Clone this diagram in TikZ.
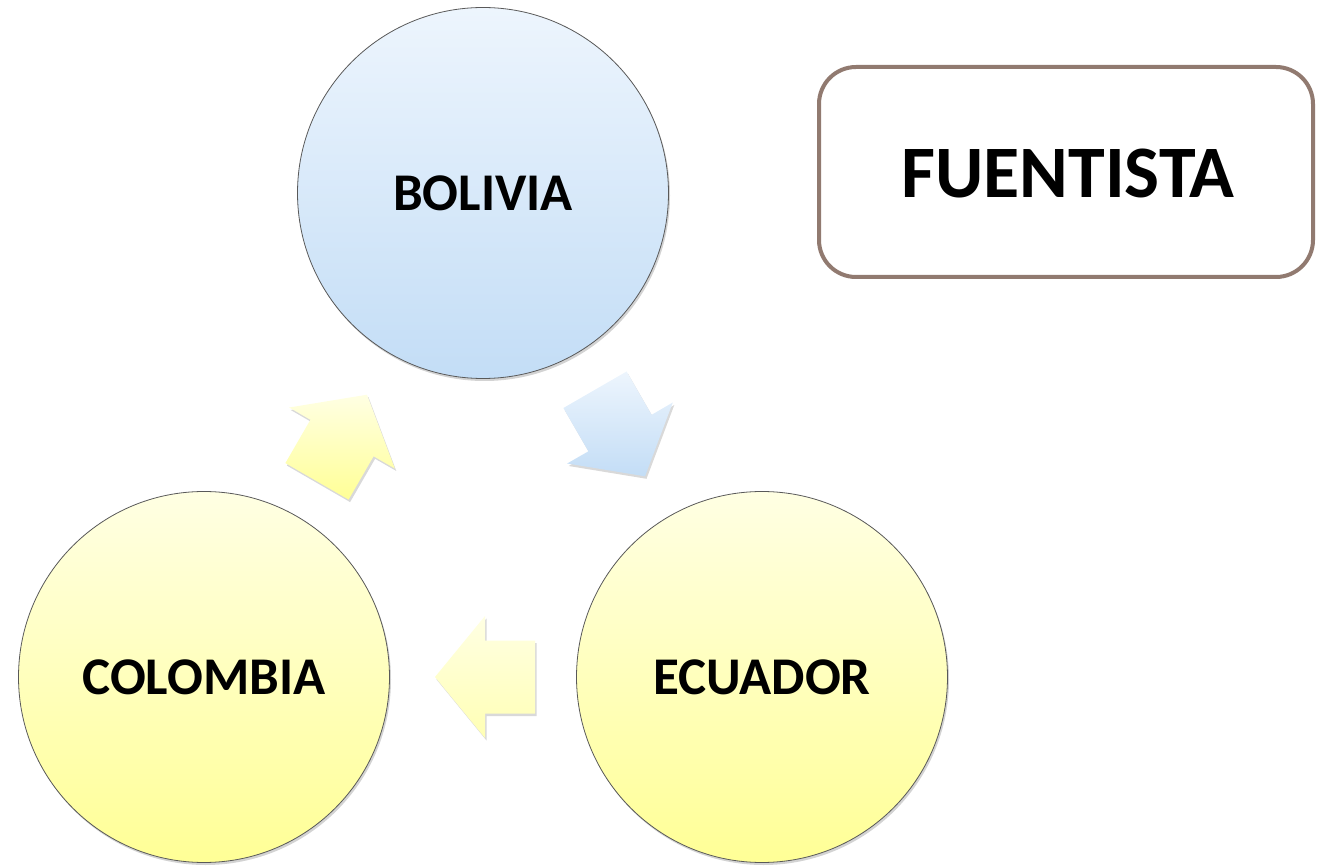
\documentclass[tikz,border=0pt]{standalone}
\usepackage{fontspec}
\setmainfont{Carlito}
\usetikzlibrary{shadows}
\definecolor{bluetop}{HTML}{EDF5FD}
\definecolor{bluebot}{HTML}{C3DDF6}
\definecolor{yeltop}{HTML}{FFFFE3}
\definecolor{yelbot}{HTML}{FFFF96}
\definecolor{boxline}{HTML}{917A70}
\tikzset{
  country/.style={circle, draw=black!65, line width=0.8pt, minimum size=371pt, inner sep=0pt,
    font=\fontsize{53}{60}\selectfont\bfseries,
    drop shadow={opacity=0.35, shadow xshift=1.5pt, shadow yshift=-2.5pt}},
  bluefill/.style={top color=bluetop, bottom color=bluebot},
  yelfill/.style={top color=yeltop, bottom color=yelbot},
  blockarrow/.style={draw=none, drop shadow={opacity=0.3, shadow xshift=1.5pt, shadow yshift=-2.5pt}},
  titlebox/.style={rectangle, rounded corners=37pt, draw=boxline, line width=4pt, fill=white,
    minimum width=494pt, minimum height=210pt, inner sep=0pt,
    font=\fontsize{74}{80}\selectfont\bfseries}
}
\begin{document}
\begin{tikzpicture}[x=1pt,y=-1pt]
\useasboundingbox (0,0) rectangle (1326,866);
\node[country, bluefill] (bol) at (483,193) {BOLIVIA};
\node[country, yelfill] (col) at (204,677) {COLOMBIA};
\node[country, yelfill] (ecu) at (762,677) {ECUADOR};
\node[titlebox] (fue) at (1066,172) {};
\node[font=\fontsize{74}{80}\selectfont\bfseries, inner sep=0pt] (fuetext) at (1068,174) {FUENTISTA};
% arrow Colombia -> Bolivia
\path[blockarrow, top color=yeltop, bottom color=yelbot]
  (367.0,394.7) -- (394.8,468.5) -- (373.6,456.3) -- (348.6,499.6) -- (285.4,463.1) -- (310.4,419.8) -- (289.2,407.5) -- cycle;
% arrow Bolivia -> Ecuador
\path[blockarrow, top color=bluetop, bottom color=bluebot]
  (645.0,476.3) -- (567.2,463.5) -- (588.4,451.3) -- (563.4,408.0) -- (626.6,371.5) -- (651.6,414.8) -- (672.8,402.5) -- cycle;
% arrow Ecuador -> Colombia
\path[blockarrow, top color=yeltop, bottom color=yelbot!60!yeltop]
  (435,677) -- (485,616) -- (485,640.5) -- (535,640.5) -- (535,713.5) -- (485,713.5) -- (485,738) -- cycle;
\end{tikzpicture}
\end{document}
